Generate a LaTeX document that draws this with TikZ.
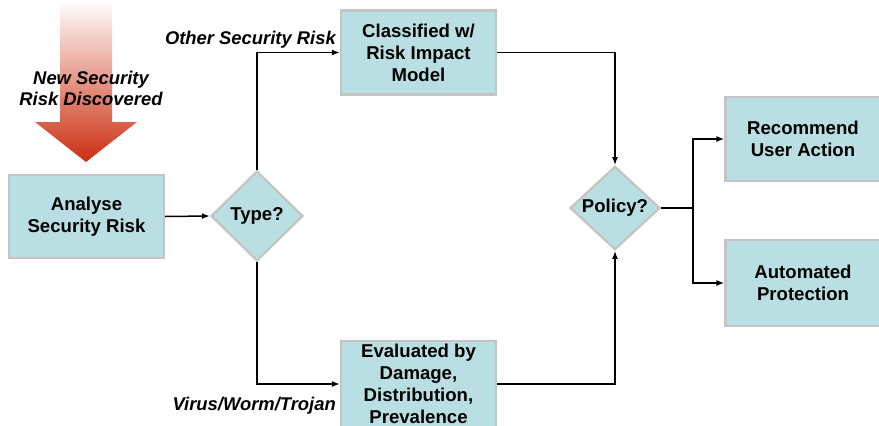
\documentclass[tikz,border=0pt]{standalone}
\usepackage{fontspec}
\setmainfont{Liberation Sans}
\usetikzlibrary{shapes.geometric,arrows.meta}
\definecolor{boxfill}{HTML}{B9DFE3}
\definecolor{boxline}{HTML}{C4C4C4}
\definecolor{arrred}{HTML}{CC2E12}
\begin{document}
\begin{tikzpicture}[x=1pt,y=-1pt,
  box/.style={draw=boxline, line width=2.2pt, fill=boxfill, minimum width=155pt, minimum height=83pt,
    align=center, inner sep=0pt, font=\fontsize{18.6}{22}\selectfont\bfseries},
  dia/.style={diamond, draw=boxline, line width=2.2pt, fill=boxfill, inner sep=0pt,
    font=\fontsize{18.6}{22}\selectfont\bfseries},
  conn/.style={line width=1.5pt, -{Latex[length=8pt,width=6pt]}},
  lbl/.style={font=\fontsize{18.4}{21}\selectfont\bfseries\itshape, inner sep=0pt, align=center}]
\fill[white] (0,0) rectangle (879,426);
\useasboundingbox (0,0) rectangle (879,426);
% incoming arrow
\shade[top color=white, bottom color=arrred]
  (60,0) -- (112,0) -- (112,122) -- (137,122) -- (86,162) -- (35,122) -- (60,122) -- cycle;
\node[lbl] (newrisk) at (91,88) {New Security\\Risk Discovered};
% boxes
\node[box] (analyse) at (86.5,216.5) {Analyse\\Security Risk};
\node[box, minimum height=84pt] (classified) at (418.5,52.5) {Classified w/\\Risk Impact\\Model};
\node[box, minimum height=86pt] (evaluated) at (418.5,384) {Evaluated by\\Damage,\\Distribution,\\Prevalence};
\node[box, minimum height=84pt] (recommend) at (803,139) {Recommend\\User Action};
\node[box, minimum height=86pt] (automated) at (803,283) {Automated\\Protection};
% diamonds
\node[dia, minimum width=92pt, minimum height=90pt] (type) at (257,216) {Type?};
\node[dia, minimum width=90pt, minimum height=83pt] (policy) at (615,208) {Policy?};
% connectors
\draw[conn] (analyse.east) -- (type.west);
\draw[conn] (type.north) |- (classified.west);
\draw[conn] (type.south) |- (evaluated.west);
\draw[conn] (classified.east) -| (policy.north);
\draw[conn] (evaluated.east) -| (policy.south);
\coordinate (br) at (693,208);
\draw[line width=2pt] (policy.east) -- (br);
\draw[conn] (br) |- (recommend.west);
\draw[conn] (br) |- (automated.west);
% labels
\node[lbl, anchor=base east] (other) at (336,44) {Other Security Risk};
\node[lbl, anchor=base east] (virus) at (336,410) {Virus/Worm/Trojan};
\end{tikzpicture}
\end{document}
